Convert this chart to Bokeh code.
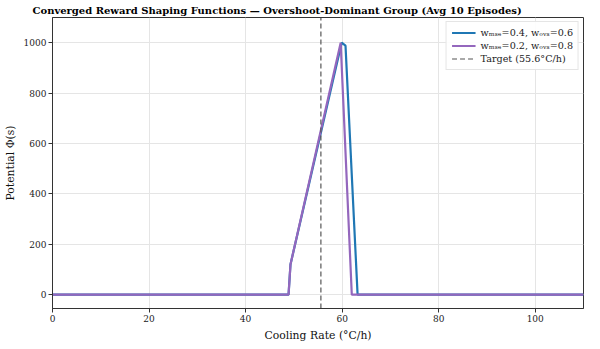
from bokeh.plotting import figure
from bokeh.models import Range1d, Legend, LegendItem, SingleIntervalTicker, Title
from bokeh.embed import file_html
from bokeh.resources import INLINE

# Data
x_a = [0, 48.9, 49.3, 59.9, 60.7, 63.2, 110]
y_a = [0, 0, 120, 1000, 988, 0, 0]
x_b = [0, 48.9, 49.3, 59.7, 62.0, 110]
y_b = [0, 0, 120, 1000, 0, 0]
target = 55.6
label_a = "wₘₛₑ=0.4, wₒᵥₛ=0.6"
label_b = "wₘₛₑ=0.2, wₒᵥₛ=0.8"
label_t = "Target (55.6°C/h)"
y_lo, y_hi = -55, 1100

FONT = "DejaVu Serif"

p = figure(frame_width=531, frame_height=291, output_backend="svg", toolbar_location=None,
           x_range=Range1d(0, 110), y_range=Range1d(y_lo, y_hi),
           min_border_left=4, min_border_right=6, min_border_top=2, min_border_bottom=2)

p.title = Title(text="Converged Reward Shaping Functions — Overshoot-Dominant Group (Avg 10 Episodes)",
                text_font=FONT, text_font_size="10px", text_font_style="bold",
                text_color="black", align="left", offset=-20, standoff=4)

r_a = p.line(x_a, y_a, line_color="#1f77b4", line_width=2.2)
r_b = p.line(x_b, y_b, line_color="#9467bd", line_width=2.2)
r_t = p.line([target, target], [y_lo, y_hi], line_color="#555555", line_width=1.2,
             line_dash="5 3")

legend = Legend(items=[LegendItem(label=label_a, renderers=[r_a]),
                       LegendItem(label=label_b, renderers=[r_b]),
                       LegendItem(label=label_t, renderers=[r_t])],
                location="top_right")
legend.label_text_font = FONT
legend.label_text_font_size = "9.6px"
legend.label_text_color = "#222222"
legend.label_height = 11
legend.glyph_height = 11
legend.glyph_width = 24
legend.spacing = 2
legend.padding = 5
legend.margin = 4
legend.border_line_color = "#cccccc"
legend.border_line_width = 1
legend.background_fill_alpha = 0.9
p.add_layout(legend)

p.xaxis.axis_label = "Cooling Rate (°C/h)"
p.yaxis.axis_label = "Potential Φ(s)"
for ax in (p.xaxis, p.yaxis):
    ax.axis_label_text_font = FONT
    ax.axis_label_text_font_size = "10.8px"
    ax.axis_label_text_font_style = "normal"
    ax.axis_label_text_color = "#111111"
    ax.major_label_text_font = FONT
    ax.major_label_text_font_size = "9px"
    ax.major_label_text_color = "#222222"
    ax.axis_line_color = "#333333"
    ax.major_tick_line_color = "#333333"
    ax.major_tick_out = 4
    ax.major_tick_in = 0
    ax.minor_tick_line_color = None
    ax.axis_label_standoff = 4
    ax.major_label_standoff = 2

p.xaxis.ticker = SingleIntervalTicker(interval=20)
p.yaxis.ticker = SingleIntervalTicker(interval=200)

p.xgrid.grid_line_color = "#e5e5e5"
p.ygrid.grid_line_color = "#e5e5e5"
p.outline_line_color = "#333333"
p.outline_line_width = 1

open("out.html", "w").write(file_html(p, INLINE))
